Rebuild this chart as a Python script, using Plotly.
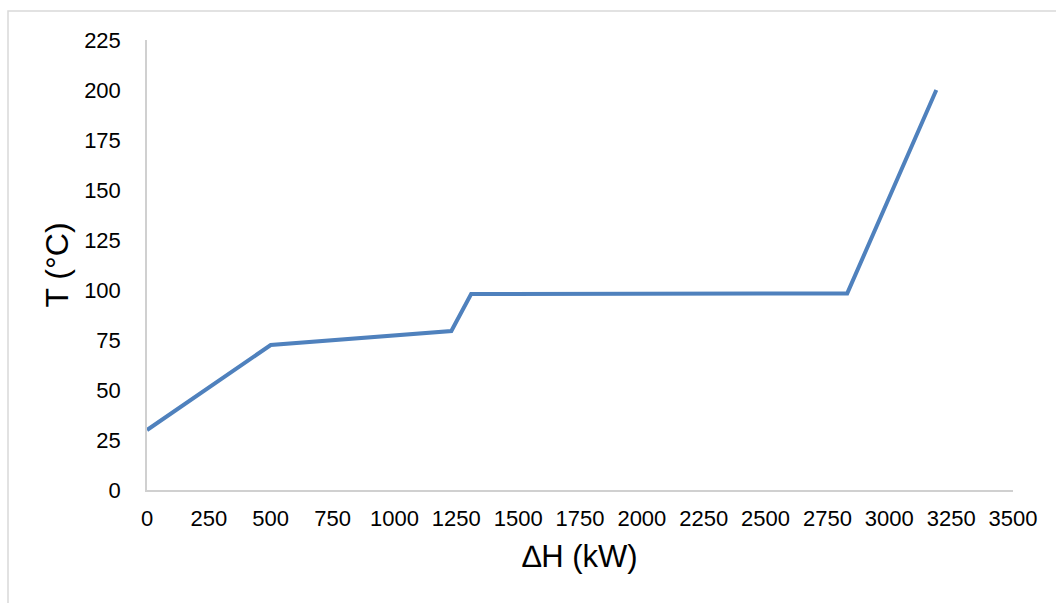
import plotly.graph_objects as go

# Composite curve: enthalpy change vs temperature
dh_kw = [0, 500, 1230, 1310, 2830, 3190]
temp_c = [30, 72.5, 79.5, 98, 98.3, 200]

x_ticks = list(range(0, 3501, 250))
y_ticks = list(range(0, 226, 25))

fig = go.Figure()
fig.add_trace(go.Scatter(
    x=dh_kw, y=temp_c, mode="lines",
    line=dict(color="#4F81BD", width=4),
    showlegend=False,
))

font_family = "Liberation Sans, Arial, sans-serif"

fig.update_layout(
    width=1056, height=603,
    margin=dict(l=147, r=43, t=40, b=113),
    paper_bgcolor="white", plot_bgcolor="white",
    font=dict(family=font_family, color="black", size=22),
    xaxis=dict(
        range=[0, 3500], tickvals=x_ticks, ticks="",
        showgrid=False, zeroline=False,
        showline=True, linecolor="#D0D0D0", linewidth=1.5,
        tickfont=dict(size=22), ticklabelstandoff=8,
        title=dict(text="∆H (kW)", font=dict(size=31), standoff=15),
    ),
    yaxis=dict(
        range=[0, 225], tickvals=y_ticks, ticks="",
        showgrid=False, zeroline=False,
        showline=True, linecolor="#D0D0D0", linewidth=1.5,
        tickfont=dict(size=22), ticklabelstandoff=20,
        title=dict(text="T (°C)", font=dict(size=32), standoff=6),
    ),
    shapes=[
        dict(type="rect", xref="paper", yref="paper",
             x0=-139 / 866, x1=1.08, y0=-0.3, y1=1 + 29 / 450,
             line=dict(color="#D9D9D9", width=1.5), fillcolor="rgba(0,0,0,0)",
             layer="below"),
    ],
)

fig.write_html("out.html")
